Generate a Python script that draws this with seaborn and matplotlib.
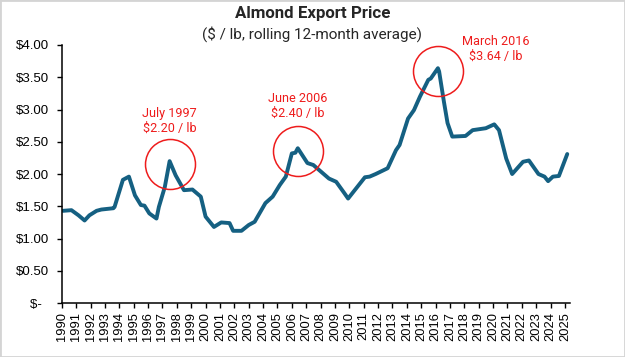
import pandas as pd
import numpy as np
import seaborn as sns
import matplotlib
matplotlib.use('Agg')
import matplotlib.pyplot as plt
import matplotlib.dates as mdates
from matplotlib.patches import Rectangle
from matplotlib.ticker import FuncFormatter

# monthly points ($ / lb, rolling 12-month average)
months = ['1990-02', '1990-09', '1991-03', '1991-08', '1991-12', '1992-06', '1992-10',
          '1993-08', '1993-09', '1994-04', '1994-09', '1995-02', '1995-07', '1995-10',
          '1996-02', '1996-08', '1996-10', '1997-03', '1997-07', '1997-12', '1998-07',
          '1999-02', '1999-09', '2000-01', '2000-08', '2001-02', '2001-09', '2001-12',
          '2002-07', '2003-01', '2003-06', '2004-03', '2004-09', '2005-03', '2005-08',
          '2006-01', '2006-04', '2006-06', '2007-02', '2007-07', '2008-08', '2009-02',
          '2009-09', '2009-12', '2011-02', '2011-06', '2011-11', '2012-09', '2013-04',
          '2013-07', '2014-02', '2014-07', '2014-12', '2015-07', '2015-09', '2016-03',
          '2016-04', '2016-08', '2016-11', '2017-03', '2018-02', '2018-08', '2019-07',
          '2020-02', '2020-06', '2020-12', '2021-05', '2022-02', '2022-07', '2023-03',
          '2023-08', '2023-11', '2024-03', '2024-08', '2025-03']
price = [1.43, 1.44, 1.36, 1.28, 1.36, 1.43, 1.45,
         1.47, 1.49, 1.91, 1.96, 1.67, 1.52, 1.51,
         1.39, 1.31, 1.49, 1.80, 2.20, 1.98, 1.75,
         1.76, 1.65, 1.34, 1.18, 1.25, 1.24, 1.12,
         1.12, 1.21, 1.26, 1.55, 1.65, 1.83, 1.96,
         2.32, 2.33, 2.40, 2.17, 2.14, 1.93, 1.88,
         1.70, 1.62, 1.95, 1.96, 2.00, 2.09, 2.37,
         2.45, 2.86, 2.99, 3.20, 3.46, 3.48, 3.64,
         3.59, 3.12, 2.79, 2.58, 2.59, 2.68, 2.71,
         2.77, 2.68, 2.24, 2.00, 2.19, 2.21, 2.00,
         1.96, 1.89, 1.96, 1.97, 2.31]

# callouts
peak_months = ['1997-07', '2006-06', '2016-03']
peak_prices = [2.20, 2.40, 3.64]
peak_labels = ['July 1997\n$2.20 / lb', 'June 2006\n$2.40 / lb', 'March 2016\n$3.64 / lb']

df = pd.DataFrame({'date': pd.to_datetime(months), 'price': price})

sns.set_style('ticks')
plt.rcParams['font.family'] = ['Liberation Sans', 'DejaVu Sans']

line_col = '#156082'
red = '#ee1c1c'

fig = plt.figure(figsize=(6.25, 3.57), dpi=100)
ax = fig.add_axes([0.099, 0.151, 0.813, 0.723])

sns.lineplot(data=df, x='date', y='price', ax=ax, color=line_col, lw=2.8,
             solid_joinstyle='round', solid_capstyle='round')

ax.set_ylim(0, 4)
ax.set_yticks(np.arange(0, 4.01, 0.5))
ax.yaxis.set_major_formatter(FuncFormatter(lambda v, p: '$-  ' if v == 0 else f'${v:.2f}'))
ax.set_xlim(pd.Timestamp('1990-01-01'), pd.Timestamp('2025-05-10'))
ax.xaxis.set_major_locator(mdates.YearLocator())
ax.xaxis.set_major_formatter(mdates.DateFormatter('%Y'))
ax.tick_params(axis='x', rotation=90, labelsize=9.3, length=3.5, width=1, pad=3, colors='black')
ax.tick_params(axis='y', labelsize=9.5, length=3.5, width=1, pad=6, colors='black')
ax.set_xlabel('')
ax.set_ylabel('')
sns.despine(ax=ax)
for s in ['left', 'bottom']:
    ax.spines[s].set_color('black')
    ax.spines[s].set_linewidth(1.1)

offsets = [(0, 21), (0, 23), (42, 6)]
for m, v, lab, off in zip(peak_months, peak_prices, peak_labels, offsets):
    d = pd.Timestamp(m)
    ax.plot([d], [v - 0.05], marker='o', ms=36, mfc='none', mec=red, mew=1.1, zorder=4)
    ax.annotate(lab, xy=(d, v - 0.05), xytext=off, textcoords='offset points',
                ha='center', va='bottom', color=red, fontsize=9.1,
                family=['Roboto', 'DejaVu Sans'], linespacing=1.2)

fig.text(0.5, 0.962, 'Almond Export Price', ha='center', va='center',
         fontsize=12.2, fontweight='bold', family=['Roboto', 'DejaVu Sans'])
fig.text(0.5, 0.905, '($ / lb, rolling 12-month average)', ha='center', va='center',
         fontsize=11, family=['Roboto', 'DejaVu Sans'])

fig.patches.append(Rectangle((0, 0), 1, 1, transform=fig.transFigure, fill=False,
                             ec='#d4d4d4', lw=2))

fig.savefig('out.png', dpi=100)
